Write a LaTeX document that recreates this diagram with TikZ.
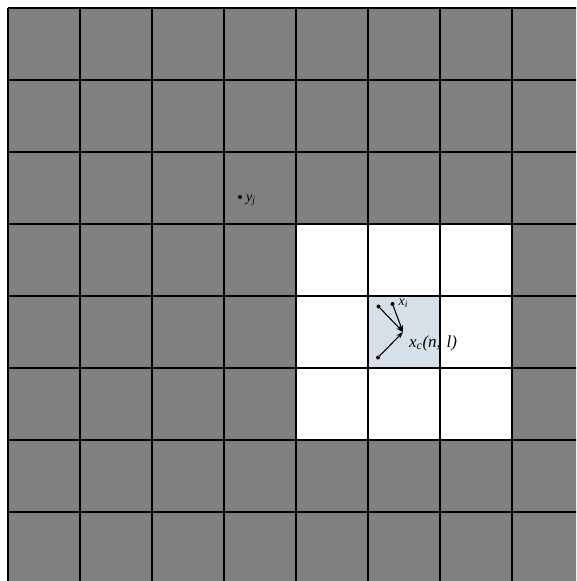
\documentclass[tikz,border=0pt]{standalone}
\usepackage{fontspec}
\setmainfont{Liberation Serif}
\usetikzlibrary{arrows.meta}
\definecolor{cellgray}{HTML}{808080}
\definecolor{cellblue}{HTML}{D6E0E8}
\tikzset{
  gridline/.style={line width=1.8pt, black},
  dotpt/.style={circle, fill=black, inner sep=0pt, minimum size=4pt},
  vec/.style={line width=1.1pt, -{Stealth[length=7pt,width=5pt]}},
  lbl/.style={inner sep=0pt, anchor=west, font=\itshape}
}
\begin{document}
\begin{tikzpicture}[x=1pt,y=-1pt]
\useasboundingbox (0,0) rectangle (576,581);
\clip (0,0) rectangle (576,581);
% background cells
\fill[cellgray] (8,8) rectangle (600,600);
\fill[white] (296,224) rectangle (512,440);
\fill[cellblue] (368,296) rectangle (440,368);
% points and vectors
\node[dotpt] (p1) at (378.5,306.5) {};
\node[dotpt] (p2) at (392.5,304) {};
\node[dotpt] (p3) at (378,357.5) {};
\coordinate (c) at (403,332);
\draw[vec] (p1) -- (c);
\draw[vec] (p2) -- (c);
\draw[vec] (p3) -- (c);
\node[lbl, font=\itshape\fontsize{14}{14}\selectfont] (xi) at (398.5,303.5) {x\textsubscript{i}};
\node[lbl, font=\itshape\fontsize{17}{17}\selectfont] (xc) at (409,343) {x\textsubscript{c}(n,\,\,l)};
\node[dotpt] (yd) at (240,197) {};
\node[lbl, font=\itshape\fontsize{14}{14}\selectfont] (yj) at (246,200) {y\textsubscript{j}};
% grid lines
\foreach \k in {0,...,8} {
  \draw[gridline] (8+72*\k,8) -- (8+72*\k,600);
  \draw[gridline] (8,8+72*\k) -- (600,8+72*\k);
}
\end{tikzpicture}
\end{document}
